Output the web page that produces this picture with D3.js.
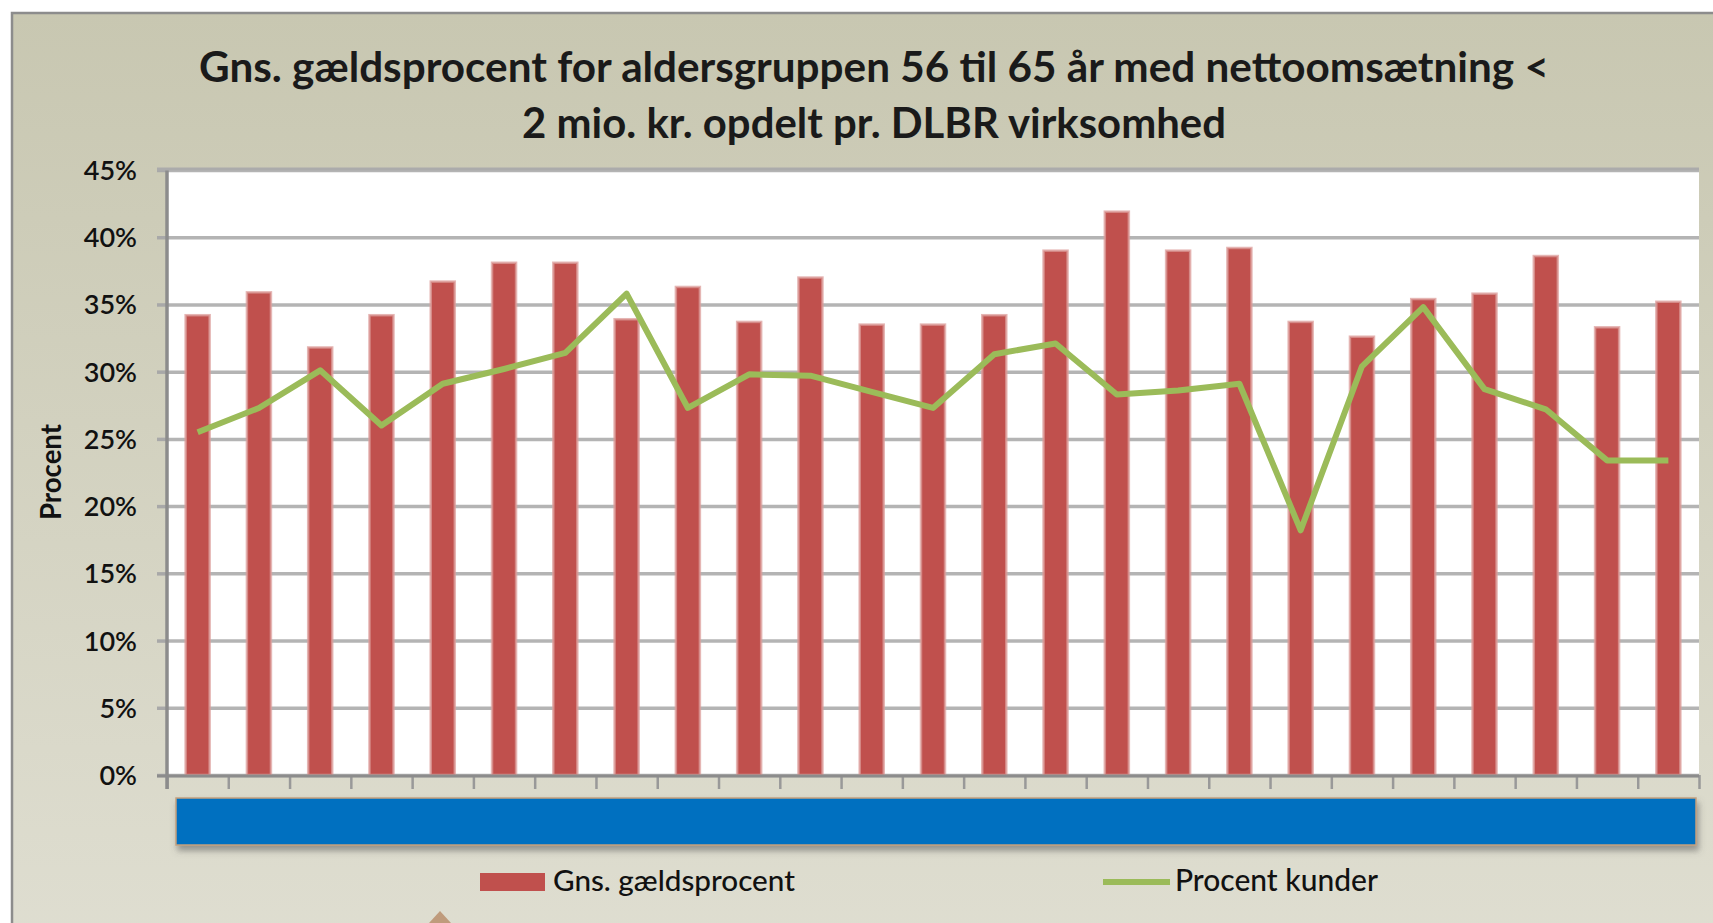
<!DOCTYPE html>
<html>
<head>
<meta charset="utf-8">
<script src="https://cdn.jsdelivr.net/npm/d3@7"></script>
<style>
  body { margin: 0; background: #fff; overflow: hidden; }
  svg { display: block; font-family: Lato, "Open Sans", sans-serif; }
</style>
</head>
<body>
<svg id="chart" width="1713" height="923"></svg>
<script>
// data (category labels are covered by the blue box)
const categories = ["V01", "V02", "V03", "V04", "V05", "V06", "V07", "V08", "V09", "V10",
  "V11", "V12", "V13", "V14", "V15", "V16", "V17", "V18", "V19", "V20",
  "V21", "V22", "V23", "V24", "V25"];
const gaeldsprocent = [34.2, 35.9, 31.8, 34.2, 36.7, 38.1, 38.1, 33.9, 36.3, 33.7,
  37.0, 33.5, 33.5, 34.2, 39.0, 41.9, 39.0, 39.2, 33.7, 32.6,
  35.4, 35.8, 38.6, 33.3, 35.2];
const procentKunder = [25.5, 27.3, 30.1, 26.0, 29.1, 30.2, 31.4, 35.8, 27.3, 29.8,
  29.7, 28.5, 27.3, 31.3, 32.1, 28.3, 28.6, 29.1, 18.2, 30.4,
  34.8, 28.7, 27.2, 23.4, 23.4];
const yTicks = [0, 5, 10, 15, 20, 25, 30, 35, 40, 45];
const titleLines = ["Gns. gældsprocent for aldersgruppen 56 til 65 år med nettoomsætning <",
  "2 mio. kr. opdelt pr. DLBR virksomhed"];
const legendNames = ["Gns. gældsprocent", "Procent kunder"];

const svg = d3.select("#chart");

// fit a text element to a target width by scaling its font size
function fit(t, w) {
  const len = t.node().getComputedTextLength();
  const fs = parseFloat(t.style("font-size"));
  t.style("font-size", (fs * w / len) + "px");
}

// background
const defs = svg.append("defs");
const grad = defs.append("linearGradient").attr("id", "bg")
  .attr("x1", 0).attr("y1", 0).attr("x2", 0).attr("y2", 1);
grad.append("stop").attr("offset", "0%").attr("stop-color", "#c8c7b1");
grad.append("stop").attr("offset", "100%").attr("stop-color", "#dfded1");
const shadow = defs.append("filter").attr("id", "shadow")
  .attr("x", "-5%").attr("y", "-50%").attr("width", "110%").attr("height", "220%");
shadow.append("feDropShadow").attr("dx", 2).attr("dy", 5).attr("stdDeviation", 3)
  .attr("flood-color", "#555").attr("flood-opacity", 0.55);

svg.append("rect")
  .attr("x", 12).attr("y", 13).attr("width", 1720).attr("height", 940)
  .attr("fill", "url(#bg)")
  .attr("stroke", "#8c8c8c").attr("stroke-width", 2.5);

// plot area
const plot = { left: 167, right: 1699, top: 170, bottom: 775 };

const x = d3.scaleBand()
  .domain(categories)
  .range([plot.left, plot.right])
  .paddingInner(0.608)
  .paddingOuter(0.304);

const y = d3.scaleLinear()
  .domain([0, 45])
  .range([plot.bottom, plot.top]);

svg.append("rect")
  .attr("x", plot.left).attr("y", plot.top)
  .attr("width", plot.right - plot.left).attr("height", plot.bottom - plot.top)
  .attr("fill", "#fff");

// gridlines + y axis
svg.append("g")
  .attr("transform", `translate(${plot.left},0)`)
  .call(d3.axisLeft(y).tickValues(yTicks).tickSize(10).tickFormat(d => d + "%"))
  .call(g => g.select(".domain").remove())
  .call(g => g.selectAll(".tick line").attr("stroke", "#a8a8a8").attr("stroke-width", 3.5))
  .call(g => g.selectAll(".tick").append("line")
    .attr("x1", 0).attr("x2", plot.right - plot.left)
    .attr("stroke", "#b4b4b4").attr("stroke-width", 3.5))
  .call(g => g.selectAll(".tick text")
    .attr("x", -30)
    .attr("dy", "0.35em")
    .style("font-family", "Lato, sans-serif")
    .style("font-size", "27px")
    .style("font-weight", "600")
    .attr("fill", "#111"));

svg.append("text")
  .attr("transform", "translate(61,472) rotate(-90)")
  .attr("text-anchor", "middle")
  .style("font-size", "24px")
  .style("font-weight", "bold")
  .attr("fill", "#111")
  .text("Procent")
  .call(t => fit(t, 96));

// bars
svg.append("g").selectAll("rect")
  .data(gaeldsprocent)
  .join("rect")
  .attr("x", (d, i) => x(categories[i]))
  .attr("y", d => y(d))
  .attr("width", x.bandwidth())
  .attr("height", d => y(0) - y(d))
  .attr("fill", "#c0504d")
  .attr("stroke", "#dc9d9b")
  .attr("stroke-opacity", 0.75)
  .attr("stroke-width", 2.5);

// x axis: ticks at category boundaries
const xb = d3.scaleLinear().domain([0, categories.length]).range([plot.left, plot.right]);
svg.append("g")
  .attr("transform", `translate(0,${plot.bottom})`)
  .call(d3.axisBottom(xb).tickValues(d3.range(categories.length + 1)).tickSize(14).tickFormat(""))
  .call(g => g.select(".domain").remove())
  .call(g => g.selectAll(".tick line").attr("stroke", "#999").attr("stroke-width", 2.5));

svg.append("line")
  .attr("x1", plot.left - 10).attr("x2", plot.right)
  .attr("y1", plot.bottom + 1).attr("y2", plot.bottom + 1)
  .attr("stroke", "#8c8c8c").attr("stroke-width", 3);
svg.append("line")
  .attr("x1", plot.left).attr("x2", plot.left)
  .attr("y1", plot.top - 1).attr("y2", plot.bottom + 14)
  .attr("stroke", "#8c8c8c").attr("stroke-width", 3.5);
svg.append("line")
  .attr("x1", plot.left - 10).attr("x2", plot.right)
  .attr("y1", plot.top - 1).attr("y2", plot.top - 1)
  .attr("stroke", "#ababab").attr("stroke-width", 3);

// line series
const line = d3.line()
  .x((d, i) => x(categories[i]) + x.bandwidth() / 2)
  .y(d => y(d));
svg.append("path")
  .datum(procentKunder)
  .attr("d", line)
  .attr("fill", "none")
  .attr("stroke", "#9bbb59")
  .attr("stroke-width", 6)
  .attr("stroke-linejoin", "round");

// blue box covering the category labels
svg.append("rect")
  .attr("x", 176).attr("y", 798).attr("width", 1520).attr("height", 47)
  .attr("fill", "#0070c0")
  .attr("stroke", "#c4a07e").attr("stroke-width", 1.5)
  .attr("filter", "url(#shadow)");

// title
const title = svg.append("g").attr("fill", "#1a1a1a")
  .style("font-weight", "bold");
title.append("text").attr("x", 874).attr("y", 82).attr("text-anchor", "middle")
  .style("font-size", "40px").text(titleLines[0]).call(t => fit(t, 1350));
title.append("text").attr("x", 874).attr("y", 138).attr("text-anchor", "middle")
  .style("font-size", "40px").text(titleLines[1]).call(t => fit(t, 704));

// legend
const legend = svg.append("g").style("font-size", "28px").style("font-weight", "500").attr("fill", "#111");
legend.append("rect")
  .attr("x", 480).attr("y", 873).attr("width", 65).attr("height", 18)
  .attr("fill", "#c0504d");
legend.append("text").attr("x", 553).attr("y", 891)
  .text(legendNames[0]).call(t => fit(t, 242));
legend.append("line")
  .attr("x1", 1103).attr("x2", 1170).attr("y1", 882).attr("y2", 882)
  .attr("stroke", "#9bbb59").attr("stroke-width", 6);
legend.append("text").attr("x", 1175).attr("y", 891)
  .text(legendNames[1]).call(t => fit(t, 203));

// small marker peeking in at the bottom edge
svg.append("path")
  .attr("d", "M429,923 L440,911 L451,923 Z")
  .attr("fill", "#bf9b7c");
</script>
</body>
</html>
